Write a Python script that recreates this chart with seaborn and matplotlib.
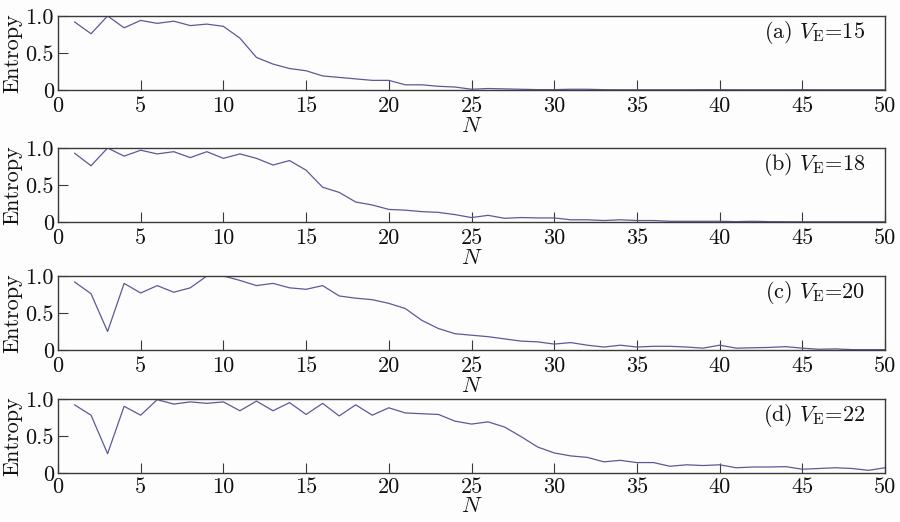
import numpy as np
import pandas as pd
import matplotlib
matplotlib.use("Agg")
import matplotlib.pyplot as plt
import seaborn as sns

# Number of samples N
n_values = list(range(1, 51))

entropy_ve15 = [0.92, 0.76, 1.00, 0.84, 0.94, 0.90, 0.93, 0.87, 0.89, 0.86,
                0.70, 0.44, 0.35, 0.29, 0.26, 0.19, 0.17, 0.15, 0.13, 0.13,
                0.07, 0.07, 0.05, 0.04, 0.01, 0.02, 0.015, 0.01, 0.005, 0.005,
                0.01, 0.01, 0.004, 0.003, 0.003, 0.003, 0.003, 0.003, 0.004, 0.004,
                0.003, 0.003, 0.003, 0.003, 0.004, 0.003, 0.003, 0.003, 0.003, 0.003]

entropy_ve18 = [0.93, 0.76, 1.00, 0.89, 0.97, 0.92, 0.95, 0.87, 0.95, 0.86,
                0.92, 0.86, 0.77, 0.83, 0.70, 0.47, 0.40, 0.27, 0.23, 0.17,
                0.16, 0.14, 0.13, 0.10, 0.06, 0.09, 0.05, 0.06, 0.055, 0.055,
                0.03, 0.03, 0.02, 0.03, 0.02, 0.02, 0.01, 0.01, 0.01, 0.01,
                0.005, 0.01, 0.005, 0.004, 0.003, 0.003, 0.003, 0.003, 0.003, 0.003]

entropy_ve20 = [0.92, 0.76, 0.25, 0.90, 0.77, 0.87, 0.78, 0.84, 1.00, 1.00,
                0.94, 0.87, 0.90, 0.84, 0.82, 0.87, 0.73, 0.70, 0.68, 0.63,
                0.56, 0.40, 0.29, 0.22, 0.20, 0.18, 0.15, 0.12, 0.11, 0.08,
                0.10, 0.065, 0.04, 0.065, 0.04, 0.05, 0.05, 0.04, 0.025, 0.065,
                0.025, 0.03, 0.035, 0.045, 0.025, 0.01, 0.015, 0.005, 0.005, 0.005]

entropy_ve22 = [0.92, 0.78, 0.26, 0.90, 0.78, 0.99, 0.93, 0.96, 0.94, 0.96,
                0.84, 0.97, 0.84, 0.95, 0.79, 0.94, 0.77, 0.92, 0.78, 0.88,
                0.81, 0.80, 0.79, 0.70, 0.66, 0.69, 0.62, 0.49, 0.35, 0.27,
                0.23, 0.21, 0.15, 0.17, 0.14, 0.14, 0.09, 0.11, 0.10, 0.11,
                0.07, 0.08, 0.08, 0.085, 0.05, 0.06, 0.07, 0.06, 0.035, 0.07]

panel_prefixes = ["(a)", "(b)", "(c)", "(d)"]
ve_values = [15, 18, 20, 22]
x_ticks = [0, 5, 10, 15, 20, 25, 30, 35, 40, 45, 50]
y_ticks = [0, 0.5, 1.0]
y_tick_labels = ["0", "0.5", "1.0"]

series = [entropy_ve15, entropy_ve18, entropy_ve20, entropy_ve22]

sns.set_theme(style="ticks")
plt.rcParams["font.family"] = ["cmr10", "DejaVu Serif"]
plt.rcParams["mathtext.fontset"] = "cm"
plt.rcParams["axes.formatter.use_mathtext"] = True
plt.rcParams["axes.unicode_minus"] = False

line_color = "#5b5a98"
spine_color = "#3a3a3a"
text_color = "#111111"
fs = 16

fig = plt.figure(figsize=(9, 5.22), dpi=100)
fig.patch.set_facecolor("#fdfdfd")

left, width, height = 0.0644, 0.919, 0.1418
bottoms = [0.8276, 0.5747, 0.3295, 0.094]
xtick_pads = [5, 5, 5, 3]
xlabel_pads = [0, 0, 0, 0]

for vals, prefix, ve, b, tp, lp in zip(series, panel_prefixes, ve_values,
                                        bottoms, xtick_pads, xlabel_pads):
    ax = fig.add_axes([left, b, width, height])
    ax.set_facecolor("#fdfdfd")
    df = pd.DataFrame({"N": n_values, "Entropy": vals})
    sns.lineplot(data=df, x="N", y="Entropy", ax=ax, color=line_color,
                 linewidth=0.9)
    ax.set_xlim(0, 50)
    ax.set_ylim(0, 1.0)
    ax.set_xticks(x_ticks)
    ax.set_xticklabels([str(t) for t in x_ticks], fontsize=fs)
    ax.set_yticks(y_ticks)
    ax.set_yticklabels(y_tick_labels, fontsize=fs)
    ax.tick_params(axis="both", direction="in", length=7, width=0.8,
                   colors=spine_color, labelcolor=text_color,
                   top=False, right=False)
    ax.tick_params(axis="x", pad=tp)
    ax.tick_params(axis="y", pad=3)
    for s in ax.spines.values():
        s.set_color(spine_color)
        s.set_linewidth(1.0)
    ax.set_xlabel("$N$", fontsize=fs, labelpad=lp, color=text_color)
    ax.set_ylabel("Entropy", fontsize=fs, labelpad=2, color=text_color)
    label = f"{prefix} $V_{{\\mathrm{{E}}}}$={ve}"
    ax.text(0.976, 0.78, label, transform=ax.transAxes, ha="right",
            va="center", fontsize=fs, color=text_color)

fig.savefig("out.png", dpi=100, facecolor=fig.get_facecolor())
